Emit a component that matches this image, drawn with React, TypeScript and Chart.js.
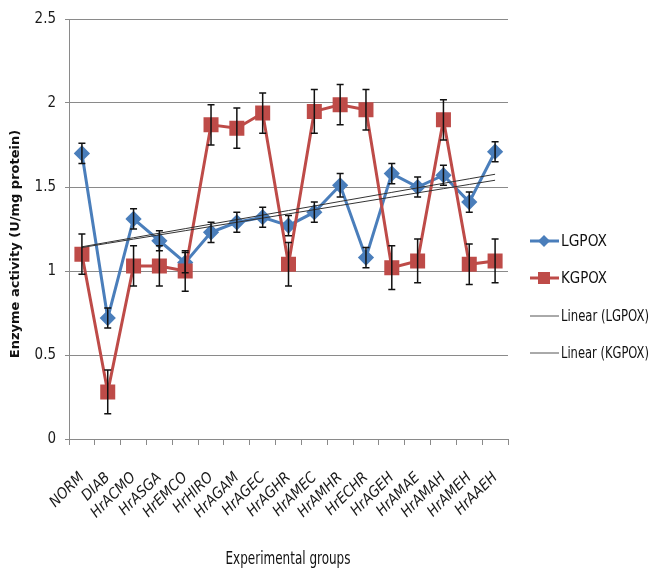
import React, { useEffect, useRef } from "react";
import { Chart, registerables } from "chart.js";

Chart.register(...registerables);

const categories = ["NORM", "DIAB", "HrACMO", "HrASGA", "HrEMCO", "HrHIRO", "HrAGAM", "HrAGEC", "HrAGHR", "HrAMEC", "HrAMHR", "HrECHR", "HrAGEH", "HrAMAE", "HrAMAH", "HrAMEH", "HrAAEH"];
const lgpox = [1.70, 0.72, 1.31, 1.18, 1.05, 1.23, 1.29, 1.32, 1.27, 1.35, 1.51, 1.08, 1.58, 1.50, 1.57, 1.41, 1.71];
const lgpoxErr = [0.06, 0.06, 0.06, 0.06, 0.06, 0.06, 0.06, 0.06, 0.06, 0.06, 0.07, 0.06, 0.06, 0.06, 0.06, 0.06, 0.06];
const kgpox = [1.10, 0.28, 1.03, 1.03, 1.00, 1.87, 1.85, 1.94, 1.04, 1.95, 1.99, 1.96, 1.02, 1.06, 1.90, 1.04, 1.06];
const kgpoxErr = [0.12, 0.13, 0.12, 0.12, 0.12, 0.12, 0.12, 0.12, 0.13, 0.13, 0.12, 0.12, 0.13, 0.13, 0.12, 0.12, 0.13];
const yTicks = [0, 0.5, 1, 1.5, 2, 2.5];

const BLUE = "#4A7EBB";
const RED = "#BE4B48";
const NARROW = '"Liberation Sans Narrow", "DejaVu Sans Condensed", "Liberation Sans", sans-serif';

function trend(values: number[]): number[] {
  const n = values.length;
  let sx = 0, sy = 0, sxy = 0, sxx = 0;
  values.forEach((v, i) => {
    const x = i + 1;
    sx += x; sy += v; sxy += x * v; sxx += x * x;
  });
  const b = (n * sxy - sx * sy) / (n * sxx - sx * sx);
  const a = (sy - b * sx) / n;
  return values.map((_, i) => a + b * (i + 1));
}

const errorBars = {
  id: "errorBars",
  afterDatasetsDraw(chart: any) {
    const ctx = chart.ctx;
    const xs = chart.scales.x;
    const ys = chart.scales.y;
    ctx.save();
    ctx.strokeStyle = "#111";
    ctx.lineWidth = 1.5;
    chart.data.datasets.forEach((ds: any) => {
      if (!ds.errors) return;
      ds.data.forEach((v: number, i: number) => {
        const x = xs.getPixelForValue(i);
        const y1 = ys.getPixelForValue(v + ds.errors[i]);
        const y2 = ys.getPixelForValue(v - ds.errors[i]);
        ctx.beginPath();
        ctx.moveTo(x, y1); ctx.lineTo(x, y2);
        ctx.moveTo(x - 3.5, y1); ctx.lineTo(x + 3.5, y1);
        ctx.moveTo(x - 3.5, y2); ctx.lineTo(x + 3.5, y2);
        ctx.stroke();
      });
    });
    ctx.restore();
  },
};

const extras = {
  id: "extras",
  afterDraw(chart: any) {
    const ctx = chart.ctx;
    ctx.save();
    // Y title
    ctx.fillStyle = "#111";
    ctx.font = 'bold 13px "DejaVu Sans", sans-serif';
    ctx.textAlign = "center";
    ctx.textBaseline = "middle";
    ctx.translate(16, 244);
    ctx.rotate(-Math.PI / 2);
    ctx.fillText("Enzyme activity (U/mg protein)", 0, 0);
    ctx.restore();

    ctx.save();
    ctx.fillStyle = "#111";
    ctx.font = "17px " + NARROW;
    ctx.textAlign = "center";
    ctx.textBaseline = "middle";
    ctx.fillText("Experimental groups", 288, 560, 125);

    // legend
    const items = [
      { label: "LGPOX", color: BLUE, marker: "diamond", y: 241, w: 46 },
      { label: "KGPOX", color: RED, marker: "square", y: 278, w: 46 },
      { label: "Linear (LGPOX)", color: "#555", marker: "none", y: 316, w: 88 },
      { label: "Linear (KGPOX)", color: "#555", marker: "none", y: 353, w: 88 },
    ];
    ctx.textAlign = "left";
    ctx.font = "16px " + NARROW;
    items.forEach((it) => {
      ctx.strokeStyle = it.color;
      ctx.lineWidth = it.marker === "none" ? 1 : 3;
      ctx.beginPath();
      ctx.moveTo(530, it.y);
      ctx.lineTo(559, it.y);
      ctx.stroke();
      ctx.fillStyle = it.color;
      if (it.marker === "diamond") {
        ctx.beginPath();
        ctx.moveTo(544, it.y - 6);
        ctx.lineTo(550, it.y);
        ctx.lineTo(544, it.y + 6);
        ctx.lineTo(538, it.y);
        ctx.closePath();
        ctx.fill();
      } else if (it.marker === "square") {
        ctx.fillRect(538, it.y - 6, 12, 12);
      }
      ctx.fillStyle = "#111";
      ctx.fillText(it.label, 561, it.y + 1, it.w);
    });
    ctx.restore();
  },
};

export default function App() {
  const ref = useRef<HTMLCanvasElement | null>(null);
  useEffect(() => {
    document.body.style.margin = "0";
    const canvas = ref.current;
    if (!canvas) return;
    const chart = new Chart(canvas, {
      type: "line",
      data: {
        labels: categories,
        datasets: [
          {
            label: "LGPOX",
            data: lgpox,
            errors: lgpoxErr,
            borderColor: BLUE,
            backgroundColor: BLUE,
            borderWidth: 3,
            pointStyle: "rectRot",
            pointRadius: 6,
            pointHoverRadius: 6,
            order: 2,
          } as any,
          {
            label: "KGPOX",
            data: kgpox,
            errors: kgpoxErr,
            borderColor: RED,
            backgroundColor: RED,
            borderWidth: 3,
            pointStyle: "rect",
            pointRadius: 8.5,
            pointHoverRadius: 8.5,
            order: 1,
          } as any,
          {
            label: "Linear (LGPOX)",
            data: trend(lgpox),
            borderColor: "#333",
            borderWidth: 1,
            pointRadius: 0,
            order: 0,
          },
          {
            label: "Linear (KGPOX)",
            data: trend(kgpox),
            borderColor: "#333",
            borderWidth: 1,
            pointRadius: 0,
            order: 0,
          },
        ],
      },
      options: {
        animation: false,
        responsive: true,
        maintainAspectRatio: false,
        layout: { padding: { left: 0, top: 19, right: 144, bottom: 0 } },
        plugins: {
          legend: { display: false },
          tooltip: { enabled: false },
        },
        scales: {
          x: {
            offset: true,
            afterFit: (s: any) => { s.height = 133; },
            grid: {
              display: true,
              offset: true,
              drawOnChartArea: false,
              tickLength: 6,
              color: "#8a8a8a",
            },
            border: { display: true, color: "#8a8a8a" },
            ticks: {
              autoSkip: false,
              maxRotation: 45,
              minRotation: 45,
              padding: 24,
              color: "#1a1a1a",
              font: { family: NARROW, size: 15, style: "italic" },
            },
          },
          y: {
            min: 0,
            max: 2.5,
            afterFit: (s: any) => { s.width = 69; },
            afterBuildTicks: (s: any) => { s.ticks = yTicks.map((v) => ({ value: v })); },
            grid: { color: "#8a8a8a", tickLength: 4 },
            border: { display: true, color: "#8a8a8a" },
            ticks: {
              padding: 9,
              color: "#1a1a1a",
              font: { family: NARROW, size: 15 },
              callback: (v: any) => String(v),
            },
          },
        },
      },
      plugins: [errorBars, extras],
    } as any);
    return () => chart.destroy();
  }, []);
  return (
    <div style={{ position: "relative", width: 652, height: 572 }}>
      <canvas ref={ref} />
    </div>
  );
}
